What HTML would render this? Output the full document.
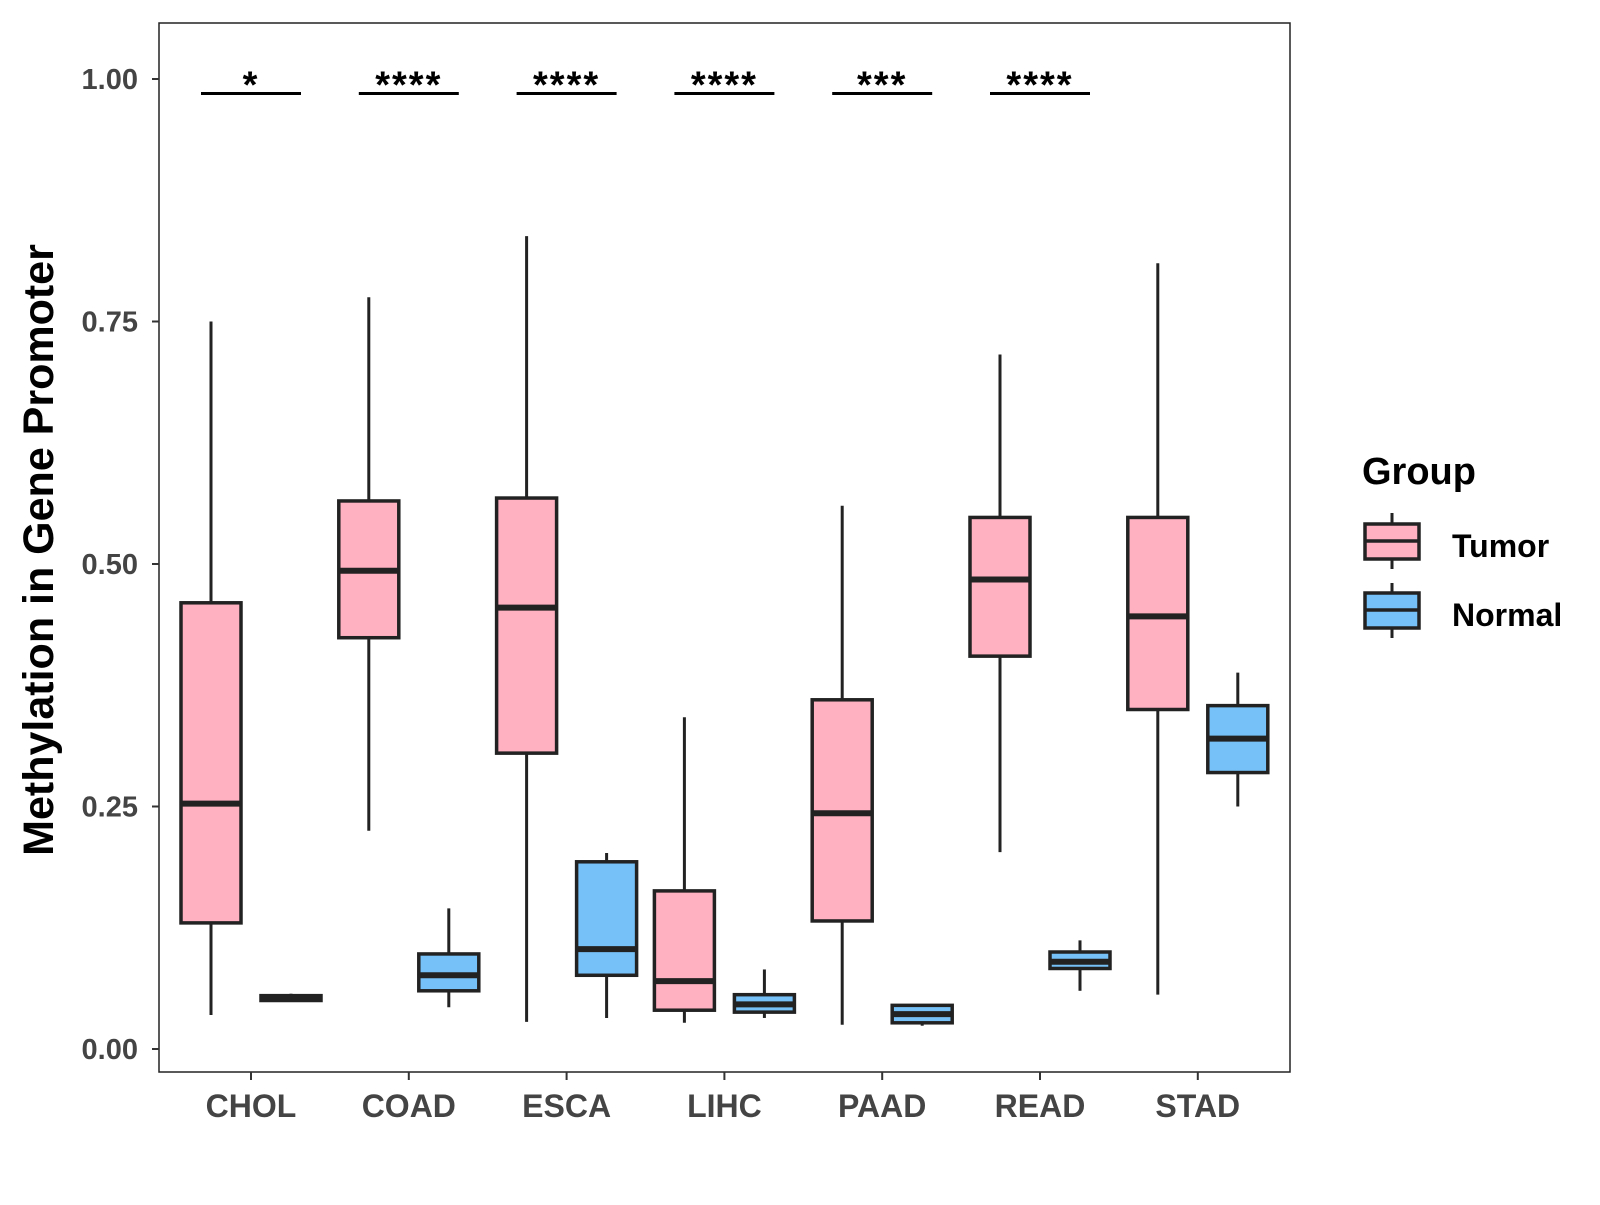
<!DOCTYPE html>
<html><head><meta charset="utf-8"><style>
body{margin:0;background:#fff;}
svg text{font-family:"Liberation Sans",Arial,sans-serif;font-weight:bold;}
</style></head><body>
<svg id="chart" width="1600" height="1200" xmlns="http://www.w3.org/2000/svg">
<rect x="159" y="23" width="1131" height="1049" fill="#fff" stroke="#222" stroke-width="1.5"/>
<g id="yaxis"></g>
<g id="xaxis"></g>
<g id="boxes"></g>
<g id="sig"></g>
<text x="53" y="550" font-size="43" fill="#000" text-anchor="middle" transform="rotate(-90 53 550)">Methylation in Gene Promoter</text>
<g>
<text x="1362" y="484" font-size="38" fill="#000">Group</text>
<g>
<line x1="1392" y1="513" x2="1392" y2="569" stroke="#222" stroke-width="3"/>
<rect x="1365" y="524" width="54" height="35" fill="#FFB0C1" stroke="#222" stroke-width="3.5"/>
<line x1="1365" y1="541" x2="1419" y2="541" stroke="#222" stroke-width="3.5"/>
<text x="1452" y="557" font-size="32" fill="#000">Tumor</text></g>
<g>
<line x1="1392" y1="583" x2="1392" y2="638" stroke="#222" stroke-width="3"/>
<rect x="1365" y="593" width="54" height="35" fill="#76C1F8" stroke="#222" stroke-width="3.5"/>
<line x1="1365" y1="610" x2="1419" y2="610" stroke="#222" stroke-width="3.5"/>
<text x="1452" y="626" font-size="32" fill="#000">Normal</text></g>
</g>
</svg>
<script>
const categories=["CHOL","COAD","ESCA","LIHC","PAAD","READ","STAD"];
// [min, q1, median, q3, max]
const tumor=[[0.035,0.13,0.253,0.46,0.75],[0.225,0.424,0.493,0.565,0.775],[0.028,0.305,0.455,0.568,0.838],[0.027,0.04,0.07,0.163,0.342],[0.025,0.132,0.243,0.36,0.56],[0.203,0.405,0.484,0.548,0.716],[0.056,0.35,0.446,0.548,0.81]];
const normal=[[0.049,0.05,0.053,0.055,0.057],[0.043,0.06,0.076,0.098,0.145],[0.032,0.076,0.103,0.193,0.202],[0.032,0.038,0.046,0.056,0.082],[0.024,0.027,0.036,0.045,0.045],[0.06,0.083,0.09,0.1,0.112],[0.25,0.285,0.32,0.354,0.388]];
const sigLabels=["*","****","****","****","***","****",""];
const yTicks=[0,0.25,0.5,0.75,1.0];
const yTickLabels=["0.00","0.25","0.50","0.75","1.00"];
const NS="http://www.w3.org/2000/svg";
const y=v=>1049-v*970;
const x=i=>251+i*157.8;
function mk(tag,attrs,parent){const e=document.createElementNS(NS,tag);for(const k in attrs)e.setAttribute(k,attrs[k]);parent.appendChild(e);return e;}
const ya=document.getElementById('yaxis'),xa=document.getElementById('xaxis'),bx=document.getElementById('boxes'),sg=document.getElementById('sig');
yTicks.forEach((v,i)=>{
 const l=mk('line',{x1:152,x2:159,y1:y(v),y2:y(v),stroke:'#333','stroke-width':2},ya);
 
 
 const t=mk('text',{x:138,y:y(v)+10,'font-size':29,fill:'#444','text-anchor':'end'},ya);
 t.textContent=yTickLabels[i];
 
 
});
categories.forEach((c,i)=>{
 const l=mk('line',{x1:x(i),x2:x(i),y1:1072,y2:1080,stroke:'#333','stroke-width':2},xa);
 
 
 const t=mk('text',{x:x(i),y:1117,'font-size':32,fill:'#444','text-anchor':'middle'},xa);
 t.textContent=c;
 
 
});
function box(d,cx,fill,name){
 const g=mk('g',{},bx);
 
 
 const w=60;
 mk('line',{x1:cx,x2:cx,y1:y(d[4]),y2:y(d[0]),stroke:'#222','stroke-width':3},g);
 mk('rect',{x:cx-w/2,y:y(d[3]),width:w,height:Math.max(y(d[1])-y(d[3]),1),fill:fill,stroke:'#222','stroke-width':3.5},g);
 mk('line',{x1:cx-w/2,x2:cx+w/2,y1:y(d[2]),y2:y(d[2]),stroke:'#222','stroke-width':6},g);
}
categories.forEach((c,i)=>{
 box(tumor[i],x(i)-40,'#FFB0C1','box-'+c.toLowerCase()+'-tumor');
 box(normal[i],x(i)+40,'#76C1F8','box-'+c.toLowerCase()+'-normal');
 if(sigLabels[i]){
  const l=mk('line',{x1:x(i)-50,x2:x(i)+50,y1:y(0.985),y2:y(0.985),stroke:'#000','stroke-width':3},sg);
  
  
  const t=mk('text',{x:x(i),y:y(0.985)+4,'font-size':38,fill:'#000','text-anchor':'middle','letter-spacing':'2'},sg);
  t.textContent=sigLabels[i];
  
  
 }
});
</script>
</body></html>
